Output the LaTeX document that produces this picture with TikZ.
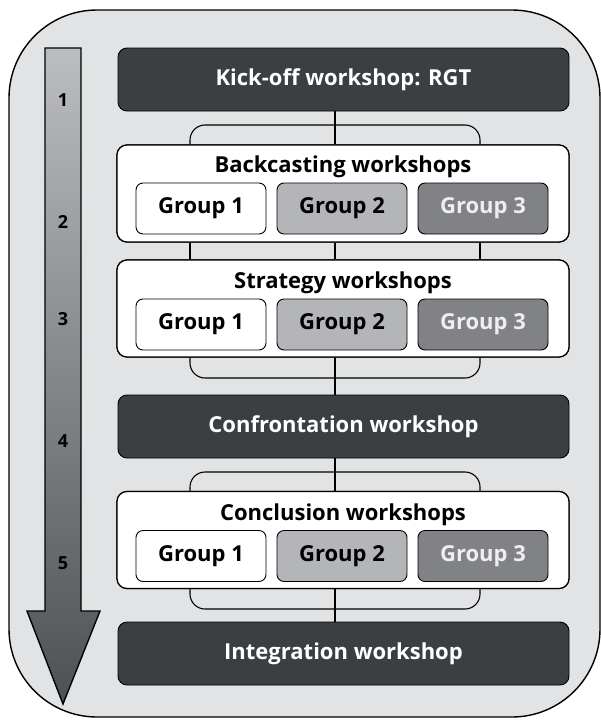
\documentclass[tikz,border=0pt]{standalone}
\usepackage{fontspec}
\setmainfont{Open Sans}
\definecolor{panelbg}{HTML}{E2E3E5}
\definecolor{darkbox}{HTML}{3C3F42}
\definecolor{grouptwo}{HTML}{B3B5B8}
\definecolor{groupthree}{HTML}{808285}
\definecolor{arrowtop}{HTML}{BBBDC0}
\definecolor{arrowbot}{HTML}{4E5154}
\definecolor{lighttext}{HTML}{EEEEEE}
\tikzset{
  phase/.style={draw=black, line width=0.9pt, fill=darkbox, rounded corners=9pt,
    text=white, font=\bfseries\fontsize{22}{26}\selectfont,
    minimum width=451pt, minimum height=63pt, inner sep=0pt},
  container/.style={draw=black, line width=1.2pt, fill=white, rounded corners=10pt,
    minimum width=452pt, minimum height=97pt, inner sep=0pt},
  heading/.style={font=\bfseries\fontsize{22}{26}\selectfont, inner sep=0pt},
  groupbox/.style={draw=black, line width=0.9pt, rounded corners=7pt,
    font=\bfseries\fontsize{22}{26}\selectfont,
    minimum width=130pt, minimum height=51pt, inner sep=0pt},
  gone/.style={groupbox, fill=white},
  gtwo/.style={groupbox, fill=grouptwo},
  gthree/.style={groupbox, fill=groupthree, text=lighttext},
  link/.style={draw=black, line width=1.1pt},
  bracket/.style={link, rounded corners=15pt},
  stepnum/.style={font=\bfseries\fontsize{18}{21}\selectfont, inner sep=0pt}
}
\begin{document}
\begin{tikzpicture}[x=1pt,y=-1pt]
\useasboundingbox (0,0) rectangle (601,720);

% outer panel
\draw[line width=1.4pt, fill=panelbg, rounded corners=88pt] (9,10) rectangle (600,717);

% time arrow with gradient
\draw[line width=1.4pt, top color=arrowtop, bottom color=arrowbot]
  (45,48) -- (81,48) -- (81,611) -- (100,611) -- (63,704) -- (27,611) -- (45,611) -- cycle;
\node[stepnum] (n1) at (63,100) {1};
\node[stepnum] (n2) at (63,222) {2};
\node[stepnum] (n3) at (63,319) {3};
\node[stepnum] (n4) at (63,441) {4};
\node[stepnum] (n5) at (63,563) {5};

% spine and bracket ends
\coordinate (spine) at (335,0);
\coordinate (bl) at (190,0);
\coordinate (br) at (480,0);

% phases
\node[phase] (kick) at (343.5,79.5) {Kick-off workshop: RGT};
\node[container] (back) at (343,193.5) {};
\node[container] (strat) at (343,308.5) {};
\node[phase] (conf) at (343.5,426.5) {Confrontation workshop};
\node[container] (concl) at (343,540) {};
\node[phase] (integ) at (343.5,653.5) {Integration workshop};

% connectors
\draw[bracket] (back.north -| bl) -- (190,125) -- (480,125) -- (back.north -| br);
\draw[link] (kick.south -| spine) -- (back.north -| spine);
\draw[link] (back.south -| bl) -- (strat.north -| bl);
\draw[link] (back.south -| spine) -- (strat.north -| spine);
\draw[link] (back.south -| br) -- (strat.north -| br);
\draw[bracket] (strat.south -| bl) -- (190,378) -- (480,378) -- (strat.south -| br);
\draw[link] (strat.south -| spine) -- (conf.north -| spine);
\draw[bracket] (concl.north -| bl) -- (190,472) -- (480,472) -- (concl.north -| br);
\draw[link] (conf.south -| spine) -- (concl.north -| spine);
\draw[bracket] (concl.south -| bl) -- (190,609) -- (480,609) -- (concl.south -| br);
\draw[link] (concl.south -| spine) -- (integ.north -| spine);

% redraw containers above connector ends
\node[container] at (back) {};
\node[container] at (strat) {};
\node[container] at (concl) {};

% backcasting
\node[heading] (backtitle) at (343,167) {Backcasting workshops};
\node[gone] (b1) at (201,208.5) {Group 1};
\node[gtwo] (b2) at (342,208.5) {Group 2};
\node[gthree] (b3) at (483,208.5) {Group 3};

% strategy
\node[heading] (strattitle) at (343,283) {Strategy workshops};
\node[gone] (s1) at (201,324.5) {Group 1};
\node[gtwo] (s2) at (342,324.5) {Group 2};
\node[gthree] (s3) at (483,324.5) {Group 3};

% conclusion
\node[heading] (concltitle) at (343,515) {Conclusion workshops};
\node[gone] (c1) at (201,556) {Group 1};
\node[gtwo] (c2) at (342,556) {Group 2};
\node[gthree] (c3) at (483,556) {Group 3};
\end{tikzpicture}
\end{document}
